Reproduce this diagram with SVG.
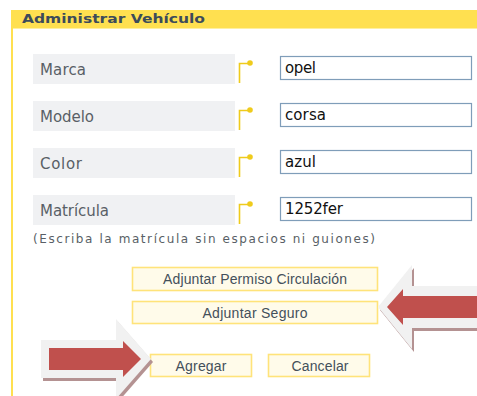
<svg xmlns="http://www.w3.org/2000/svg" width="477" height="396" viewBox="0 0 477 396">
<style>
.lbl{fill:#f0f1f3}
.lt{font-family:"DejaVu Sans",Verdana,sans-serif;font-size:15px;fill:#595f66}
.inp{fill:#fff;stroke:#7f9db9;stroke-width:1.2}
.it{font-family:"DejaVu Sans",Verdana,sans-serif;font-size:15px;fill:#111}
.glyph{fill:none;stroke:#efcb1c;stroke-width:1.6}
.dot{fill:#efcb1c}
.btn{fill:#fffbea;stroke:#ffe37a;stroke-width:1.6}
.bt{font-family:"Liberation Sans",Arial,sans-serif;font-size:14px;fill:#44505b;text-anchor:middle}
.grey{fill:#f1f1f1}
.shadow{fill:#b49292}
.red{fill:#c0504d}
</style>
<rect width="477" height="396" fill="#fff"/>
<g id="frame">
<rect x="11" y="10" width="466" height="18" fill="#ffe050"/>
<rect x="11" y="28" width="466" height="1" fill="#fff0a0"/>
<rect x="11" y="10" width="2" height="386" fill="#ffe050"/>
<text x="22" y="23" font-family="'DejaVu Sans',Verdana,sans-serif" font-size="13" font-weight="bold" fill="#3c4b5a" textLength="183" lengthAdjust="spacingAndGlyphs">Administrar Vehículo</text>
</g>
<g id="row-marca">
<rect class="lbl" x="33" y="54" width="202" height="30"/>
<text class="lt" x="40" y="75" textLength="46">Marca</text>
<path class="glyph" d="M239.5 83V63.5H249"/><circle class="dot" cx="250" cy="63" r="2.8"/>
<rect class="inp" x="280.5" y="56.5" width="191" height="23"/>
<text class="it" x="285" y="73" textLength="31">opel</text>
</g>
<g id="row-modelo">
<rect class="lbl" x="33" y="101" width="202" height="30"/>
<text class="lt" x="40" y="122" textLength="54">Modelo</text>
<path class="glyph" d="M239.5 130V110.5H249"/><circle class="dot" cx="250" cy="110" r="2.8"/>
<rect class="inp" x="280.5" y="103.5" width="191" height="23"/>
<text class="it" x="285" y="120" textLength="41">corsa</text>
</g>
<g id="row-color">
<rect class="lbl" x="33" y="148" width="202" height="30"/>
<text class="lt" x="40" y="169" textLength="42">Color</text>
<path class="glyph" d="M239.5 177V157.5H249"/><circle class="dot" cx="250" cy="157" r="2.8"/>
<rect class="inp" x="280.5" y="150.5" width="191" height="23"/>
<text class="it" x="285" y="167" textLength="31">azul</text>
</g>
<g id="row-matricula">
<rect class="lbl" x="33" y="195" width="202" height="30"/>
<text class="lt" x="40" y="216" textLength="69">Matrícula</text>
<path class="glyph" d="M239.5 224V204.5H249"/><circle class="dot" cx="250" cy="204" r="2.8"/>
<rect class="inp" x="280.5" y="197.5" width="191" height="23"/>
<text class="it" x="285" y="214" textLength="58">1252fer</text>
</g>
<g id="hint">
<text x="33" y="243" font-family="'DejaVu Sans',Verdana,sans-serif" font-size="12" fill="#595f66" textLength="342">(Escriba la matrícula sin espacios ni guiones)</text>
</g>
<g id="btn-permiso">
<rect class="btn" x="132.5" y="267.5" width="245" height="23"/>
<text class="bt" x="255" y="284" textLength="184">Adjuntar Permiso Circulación</text>
</g>
<g id="btn-seguro">
<rect class="btn" x="132.5" y="301.5" width="245" height="22"/>
<text class="bt" x="255" y="318" textLength="105">Adjuntar Seguro</text>
</g>
<g id="btn-agregar">
<rect class="btn" x="150.5" y="354.5" width="101" height="22"/>
<text class="bt" x="201" y="371" textLength="51">Agregar</text>
</g>
<g id="btn-cancelar">
<rect class="btn" x="268.5" y="354.5" width="101" height="22"/>
<text class="bt" x="320" y="371" textLength="57">Cancelar</text>
</g>
<g id="arrow-left">
<polygon class="shadow" points="43,343 118,343 118,322 153,362 118,402 118,381 43,381"/>
<polygon class="grey" points="41,340 116,340 116,319 151,359 116,399 116,378 41,378"/>
<polygon class="red" points="49,348 123,348 123,341 141,359 123,377 123,370 49,370"/>
</g>
<g id="arrow-right">
<polygon class="shadow" points="380,310 414,268 414,289 479,289 479,331 414,331 414,352"/>
<polygon class="grey" points="378,307 412,265 412,286 477,286 477,328 412,328 412,349"/>
<polygon class="red" points="387,307 403,289 403,296 477,296 477,318 403,318 403,325"/>
</g>
<g id="connectors"></g>
</svg>
